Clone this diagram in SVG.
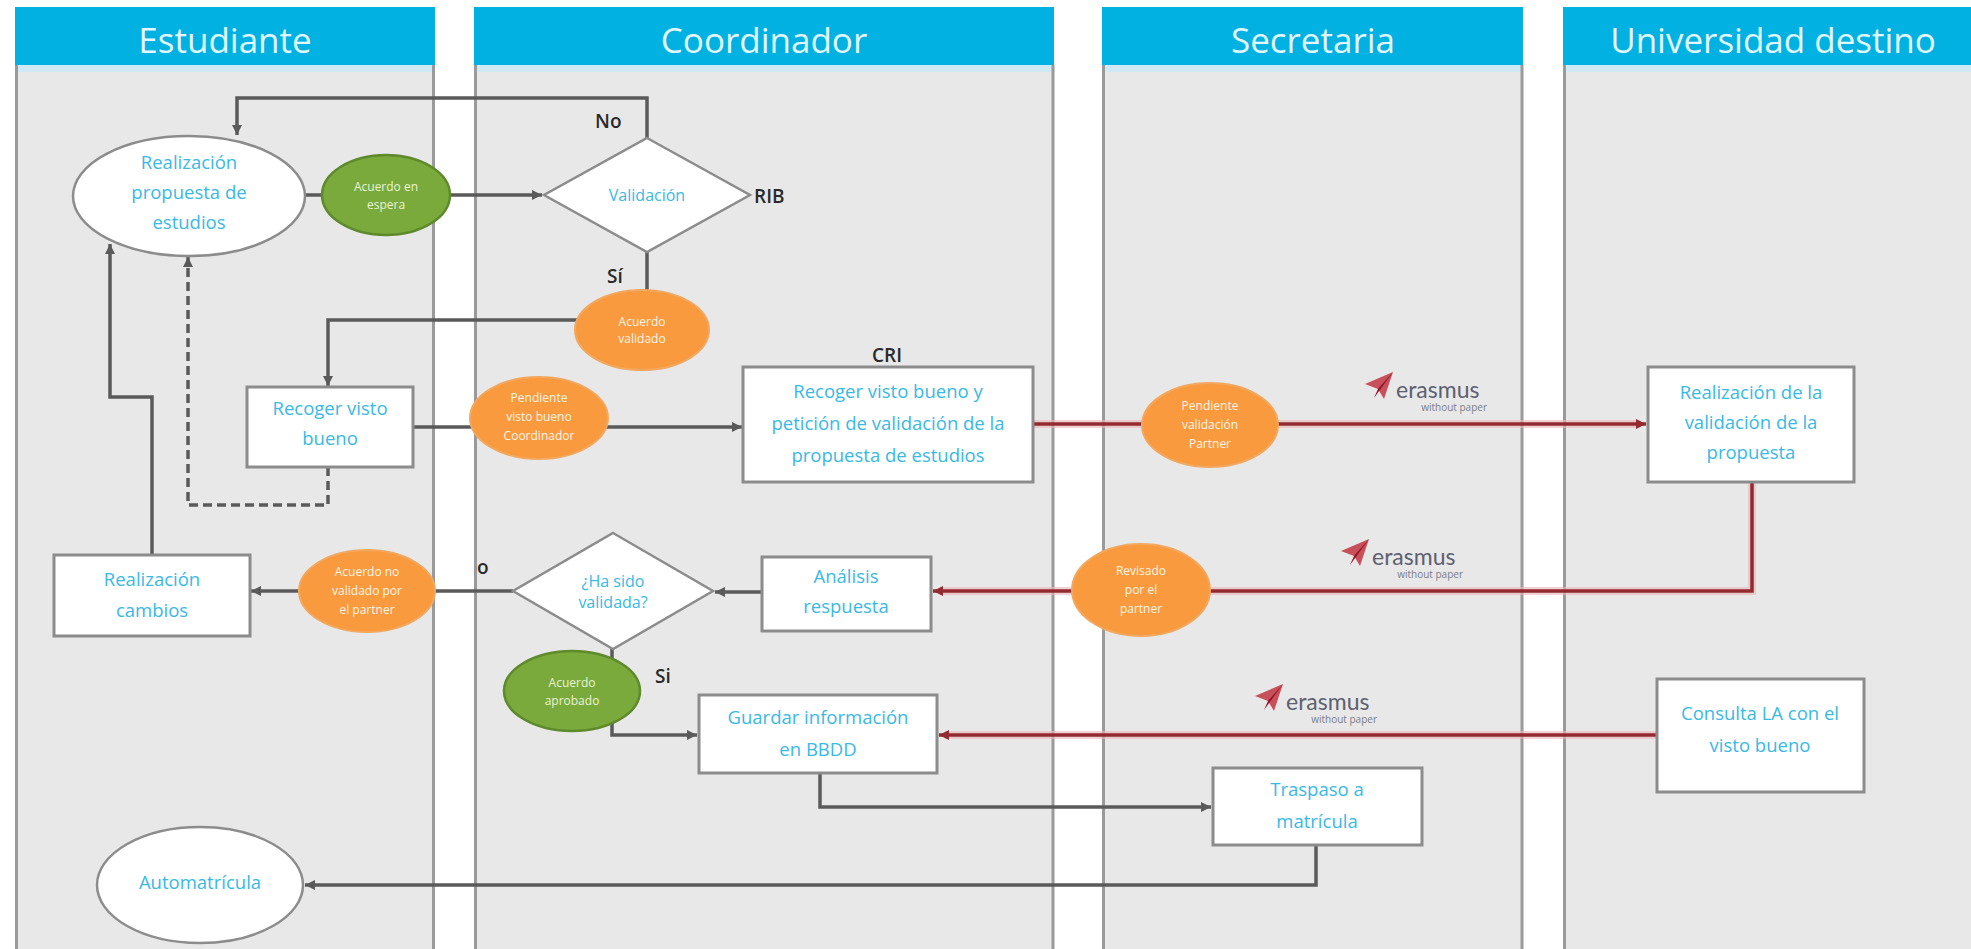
<svg xmlns="http://www.w3.org/2000/svg" width="1971" height="949" viewBox="0 0 1971 949">
<defs>
<style>
.lane{fill:#e8e8e8}
.hdr{fill:#00b1e2}
.stripe{fill:#cfeaf4}
.lb{stroke:#9a9a9a;stroke-width:3;fill:none}
.ht{font-family:"Open Sans","Liberation Sans",sans-serif;font-size:35px;fill:#e2f8ff;text-anchor:middle}
.box{fill:#ffffff;stroke:#8c8c8c;stroke-width:3}
.ell{fill:#ffffff;stroke:#8c8c8c;stroke-width:2.5}
.or{fill:#f99a3e;stroke:#f2a860;stroke-width:2}
.gr{fill:#7aaa3c;stroke:#5e8a2c;stroke-width:2.5}
.nt{font-family:"Open Sans","Liberation Sans",sans-serif;font-size:18.5px;fill:#38b9e6;text-anchor:middle}
.dt{font-family:"Open Sans","Liberation Sans",sans-serif;font-size:16px;fill:#38b9e6;text-anchor:middle}
.st{font-family:"Open Sans","Liberation Sans",sans-serif;font-size:12px;fill:#fff4e4;text-anchor:middle}
.sg{font-family:"Open Sans","Liberation Sans",sans-serif;font-size:12px;fill:#e8f4d4;text-anchor:middle}
.lbl{font-family:"Open Sans","Liberation Sans",sans-serif;font-size:19px;font-weight:600;fill:#2a2a2a}
.c{fill:none;stroke:#5a5a5a;stroke-width:3.5}
.r{fill:none;stroke:#932a30;stroke-width:3.5}
.rh{fill:none;stroke:#e9b4b4;stroke-width:8;opacity:0.6}
.er{font-family:"Lato","Open Sans",sans-serif;font-size:23px;fill:#5d6070}
.wp{font-family:"Open Sans","Liberation Sans",sans-serif;font-size:10px;fill:#7a7d88;text-anchor:end}
</style>
<marker id="ag" viewBox="0 0 10 10" refX="10" refY="5" markerWidth="10" markerHeight="10" markerUnits="userSpaceOnUse" orient="auto"><path d="M0,0 L10,5 L0,10 z" fill="#5a5a5a"/></marker>
<marker id="ar" viewBox="0 0 10 10" refX="10" refY="5" markerWidth="10" markerHeight="10" markerUnits="userSpaceOnUse" orient="auto"><path d="M0,0 L10,5 L0,10 z" fill="#932a30"/></marker>
<g id="plane"><polygon points="2,14 30,2 21,29 15,19" fill="#c8505a"/><polygon points="15,19 30,2 11,28" fill="#8e1424"/></g>
</defs>
<rect x="0" y="0" width="1971" height="949" fill="#ffffff"/>
<g id="lanes">
<g id="lane-estudiante">
<rect class="lane" x="15" y="7" width="420" height="942"/>
<rect class="hdr" x="15" y="7" width="420" height="58"/>
<rect class="stripe" x="15" y="65" width="420" height="7"/>
<line class="lb" x1="16.5" y1="65" x2="16.5" y2="949"/>
<line class="lb" x1="433.5" y1="65" x2="433.5" y2="949"/>
<text class="ht" x="225" y="53">Estudiante</text>
</g>
<g id="lane-coordinador">
<rect class="lane" x="474" y="7" width="580" height="942"/>
<rect class="hdr" x="474" y="7" width="580" height="58"/>
<rect class="stripe" x="474" y="65" width="580" height="7"/>
<line class="lb" x1="475.5" y1="65" x2="475.5" y2="949"/>
<line class="lb" x1="1053" y1="65" x2="1053" y2="949"/>
<text class="ht" x="764" y="53">Coordinador</text>
</g>
<g id="lane-secretaria">
<rect class="lane" x="1102" y="7" width="421" height="942"/>
<rect class="hdr" x="1102" y="7" width="421" height="58"/>
<rect class="stripe" x="1102" y="65" width="421" height="7"/>
<line class="lb" x1="1103.5" y1="65" x2="1103.5" y2="949"/>
<line class="lb" x1="1522" y1="65" x2="1522" y2="949"/>
<text class="ht" x="1313" y="53">Secretaria</text>
</g>
<g id="lane-universidad">
<rect class="lane" x="1563" y="7" width="408" height="942"/>
<rect class="hdr" x="1563" y="7" width="408" height="58"/>
<rect class="stripe" x="1563" y="65" width="408" height="7"/>
<line class="lb" x1="1564.5" y1="65" x2="1564.5" y2="949"/>
<text class="ht" x="1773" y="53">Universidad destino</text>
</g>
</g>
<g id="connectors">
<path class="c" d="M305,195 L542,195" marker-end="url(#ag)"/>
<path class="c" d="M647,138 L647,98 L237,98 L237,135" marker-end="url(#ag)"/>
<path class="c" d="M647,252 L647,300"/>
<path class="c" d="M600,320 L328,320 L328,386" marker-end="url(#ag)"/>
<path class="c" d="M413,427 L742,427" marker-end="url(#ag)"/>
<path class="c" d="M328,467 L328,505 L188,505 L188,257" stroke-dasharray="9,5" marker-end="url(#ag)"/>
<path class="c" d="M152,555 L152,397 L110,397 L110,244" marker-end="url(#ag)"/>
<path class="rh" d="M1033,424 L1640,424"/>
<path class="r" d="M1033,424 L1646,424" marker-end="url(#ar)"/>
<path class="rh" d="M1752,482 L1752,591 L940,591"/>
<path class="r" d="M1752,482 L1752,591 L933,591" marker-end="url(#ar)"/>
<path class="c" d="M762,592 L715,592" marker-end="url(#ag)"/>
<path class="c" d="M513,591 L251,591" marker-end="url(#ag)"/>
<path class="c" d="M612,649 L612,735 L697,735" marker-end="url(#ag)"/>
<path class="rh" d="M1657,735 L945,735"/>
<path class="r" d="M1657,735 L939,735" marker-end="url(#ar)"/>
<path class="c" d="M820,773 L820,807 L1211,807" marker-end="url(#ag)"/>
<path class="c" d="M1316,845 L1316,885 L305,885" marker-end="url(#ag)"/>
</g>
<g id="n-realizacion-propuesta">
<ellipse class="ell" cx="189" cy="196" rx="116" ry="60"/>
<text class="nt" x="189" y="169">Realización</text>
<text class="nt" x="189" y="199">propuesta de</text>
<text class="nt" x="189" y="229">estudios</text>
</g>
<g id="n-acuerdo-espera">
<ellipse class="gr" cx="386" cy="195" rx="64" ry="40"/>
<text class="sg" x="386" y="191">Acuerdo en</text>
<text class="sg" x="386" y="209">espera</text>
</g>
<g id="n-validacion">
<polygon class="ell" points="647,138 750,195 647,252 544,195"/>
<text class="dt" x="647" y="201">Validación</text>
</g>
<g id="n-acuerdo-validado">
<ellipse class="or" cx="642" cy="330" rx="67" ry="40"/>
<text class="st" x="642" y="326">Acuerdo</text>
<text class="st" x="642" y="343">validado</text>
</g>
<g id="n-recoger-visto-bueno">
<rect class="box" x="247" y="387" width="166" height="80"/>
<text class="nt" x="330" y="415">Recoger visto</text>
<text class="nt" x="330" y="445">bueno</text>
</g>
<g id="n-pendiente-coordinador">
<ellipse class="or" cx="539" cy="418" rx="69" ry="41"/>
<text class="st" x="539" y="402">Pendiente</text>
<text class="st" x="539" y="421">visto bueno</text>
<text class="st" x="539" y="440">Coordinador</text>
</g>
<g id="n-cri">
<rect class="box" x="743" y="367" width="290" height="115"/>
<text class="nt" x="888" y="398">Recoger visto bueno y</text>
<text class="nt" x="888" y="430">petición de validación de la</text>
<text class="nt" x="888" y="462">propuesta de estudios</text>
</g>
<g id="n-pendiente-partner">
<ellipse class="or" cx="1210" cy="425" rx="68" ry="42"/>
<text class="st" x="1210" y="410">Pendiente</text>
<text class="st" x="1210" y="429">validación</text>
<text class="st" x="1210" y="448">Partner</text>
</g>
<g id="n-realizacion-validacion">
<rect class="box" x="1648" y="367" width="206" height="115"/>
<text class="nt" x="1751" y="399">Realización de la</text>
<text class="nt" x="1751" y="429">validación de la</text>
<text class="nt" x="1751" y="459">propuesta</text>
</g>
<g id="n-revisado">
<ellipse class="or" cx="1141" cy="590" rx="69" ry="46"/>
<text class="st" x="1141" y="575">Revisado</text>
<text class="st" x="1141" y="594">por el</text>
<text class="st" x="1141" y="613">partner</text>
</g>
<g id="n-analisis">
<rect class="box" x="762" y="557" width="169" height="74"/>
<text class="nt" x="846" y="583">Análisis</text>
<text class="nt" x="846" y="613">respuesta</text>
</g>
<g id="n-ha-sido-validada">
<polygon class="ell" points="613,533 713,591 613,649 513,591"/>
<text class="dt" x="613" y="587">¿Ha sido</text>
<text class="dt" x="613" y="608">validada?</text>
</g>
<g id="n-acuerdo-no-validado">
<ellipse class="or" cx="367" cy="591" rx="68" ry="41"/>
<text class="st" x="367" y="576">Acuerdo no</text>
<text class="st" x="367" y="595">validado por</text>
<text class="st" x="367" y="614">el partner</text>
</g>
<g id="n-realizacion-cambios">
<rect class="box" x="54" y="555" width="196" height="81"/>
<text class="nt" x="152" y="586">Realización</text>
<text class="nt" x="152" y="617">cambios</text>
</g>
<g id="n-acuerdo-aprobado">
<ellipse class="gr" cx="572" cy="691" rx="68" ry="40"/>
<text class="sg" x="572" y="687">Acuerdo</text>
<text class="sg" x="572" y="705">aprobado</text>
</g>
<g id="n-guardar">
<rect class="box" x="699" y="695" width="238" height="78"/>
<text class="nt" x="818" y="724">Guardar información</text>
<text class="nt" x="818" y="756">en BBDD</text>
</g>
<g id="n-consulta">
<rect class="box" x="1657" y="679" width="207" height="113"/>
<text class="nt" x="1760" y="720">Consulta LA con el</text>
<text class="nt" x="1760" y="752">visto bueno</text>
</g>
<g id="n-traspaso">
<rect class="box" x="1213" y="768" width="209" height="77"/>
<text class="nt" x="1317" y="796">Traspaso a</text>
<text class="nt" x="1317" y="828">matrícula</text>
</g>
<g id="n-automatricula">
<ellipse class="ell" cx="200" cy="885" rx="103" ry="58"/>
<text class="nt" x="200" y="889">Automatrícula</text>
</g>
<g id="labels">
<text class="lbl" x="595" y="128">No</text>
<text class="lbl" x="607" y="283">Sí</text>
<text class="lbl" x="754" y="203">RIB</text>
<text class="lbl" x="872" y="362">CRI</text>
<text class="lbl" x="477" y="574">o</text>
<text class="lbl" x="655" y="683">Si</text>
</g>
<g id="erasmus-logos">
<g transform="translate(1363,370)"><use href="#plane"/><text class="er" x="33" y="28">erasmus</text><text class="wp" x="124" y="41">without paper</text></g>
<g transform="translate(1339,537)"><use href="#plane"/><text class="er" x="33" y="28">erasmus</text><text class="wp" x="124" y="41">without paper</text></g>
<g transform="translate(1253,682)"><use href="#plane"/><text class="er" x="33" y="28">erasmus</text><text class="wp" x="124" y="41">without paper</text></g>
</g>
</svg>
